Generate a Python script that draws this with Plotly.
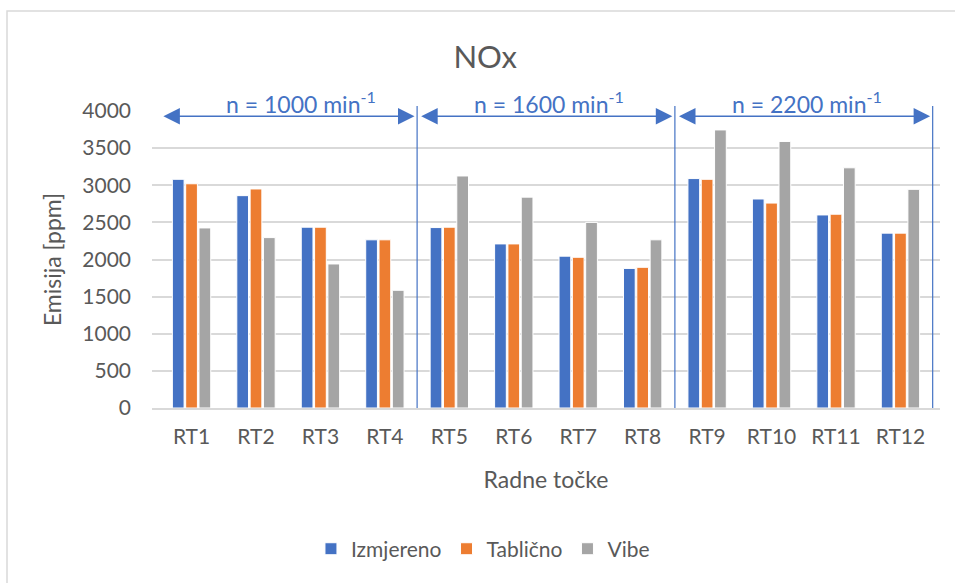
import plotly.graph_objects as go

categories = ["RT1", "RT2", "RT3", "RT4", "RT5", "RT6",
              "RT7", "RT8", "RT9", "RT10", "RT11", "RT12"]
izmjereno = [3080, 2860, 2435, 2265, 2430, 2210, 2045, 1880, 3090, 2815, 2600, 2355]
tablicno = [3020, 2950, 2435, 2265, 2435, 2210, 2030, 1895, 3080, 2760, 2610, 2355]
vibe = [2425, 2295, 1940, 1585, 3125, 2840, 2500, 2265, 3745, 3590, 3235, 2945]

speed_labels = ["n = 1000 min<sup>-1</sup>", "n = 1600 min<sup>-1</sup>", "n = 2200 min<sup>-1</sup>"]
speed_groups = [(-0.5, 3.5), (3.5, 7.5), (7.5, 11.5)]

BLUE = "#4472C4"
TEXT = "#595959"

fig = go.Figure()
for name, vals, color in [("Izmjereno", izmjereno, BLUE),
                          ("Tablično", tablicno, "#ED7D31"),
                          ("Vibe", vibe, "#A5A5A5")]:
    fig.add_trace(go.Bar(x=categories, y=vals, name=name,
                         marker=dict(color=color, line=dict(color="white", width=1))))

# speed range markers (label nudges follow the original text boxes)
label_shift = [0.2, 0.05, 0.05]
for (x0, x1), label, dx in zip(speed_groups, speed_labels, label_shift):
    fig.add_annotation(x=x1 - 0.04, y=3930, ax=x0 + 0.04, ay=3930,
                       xref="x", yref="y", axref="x", ayref="y",
                       showarrow=True, arrowhead=2, startarrowhead=2,
                       arrowside="end+start", arrowsize=2.2, startarrowsize=2.2,
                       arrowwidth=1.5, arrowcolor=BLUE, text="")
    fig.add_annotation(x=(x0 + x1) / 2 + dx, y=0.97, xref="x", yref="paper",
                       yanchor="bottom", text=label, showarrow=False,
                       font=dict(size=23, color=BLUE))
    fig.add_shape(type="line", x0=x1, x1=x1, y0=0, y1=1.017,
                  xref="x", yref="paper", line=dict(color=BLUE, width=1.2))

# outer chart border
fig.add_shape(type="rect", x0=-0.184, x1=1.05, y0=-0.65, y1=1.337,
              xref="paper", yref="paper", line=dict(color="#D9D9D9", width=1.5))

fig.update_layout(
    width=955, height=583,
    margin=dict(l=152, r=15, t=111, b=175, autoexpand=False),
    paper_bgcolor="white", plot_bgcolor="white",
    font=dict(family="Lato", color=TEXT, size=20),
    title=dict(text="NOx", x=0.508, xanchor="center", y=0.902, yanchor="middle",
               font=dict(size=31, color=TEXT)),
    barmode="group", bargap=0.38, bargroupgap=0.12,
    legend=dict(orientation="h", x=0.42, xanchor="center", y=-0.475, yanchor="middle",
                font=dict(size=21, color=TEXT), itemwidth=30),
    showlegend=True,
)
fig.update_xaxes(title=dict(text="Radne točke", font=dict(size=23), standoff=25),
                 showline=True, linecolor="#D9D9D9", linewidth=1.5, ticks="",
                 ticklabelstandoff=9, tickfont=dict(size=21))
fig.update_yaxes(title=dict(text="Emisija [ppm]", font=dict(size=23), standoff=14),
                 range=[0, 4000], dtick=500, showgrid=True, gridcolor="#D9D9D9",
                 gridwidth=1.5, zeroline=False, ticks="", ticklabelstandoff=20,
                 tickfont=dict(size=21))

page_fix = ("document.body.style.margin = '0';"
            "document.body.style.overflow = 'hidden';"
            "document.documentElement.style.overflow = 'hidden';")
fig.write_html("out.html", config={"displayModeBar": False}, post_script=page_fix)
